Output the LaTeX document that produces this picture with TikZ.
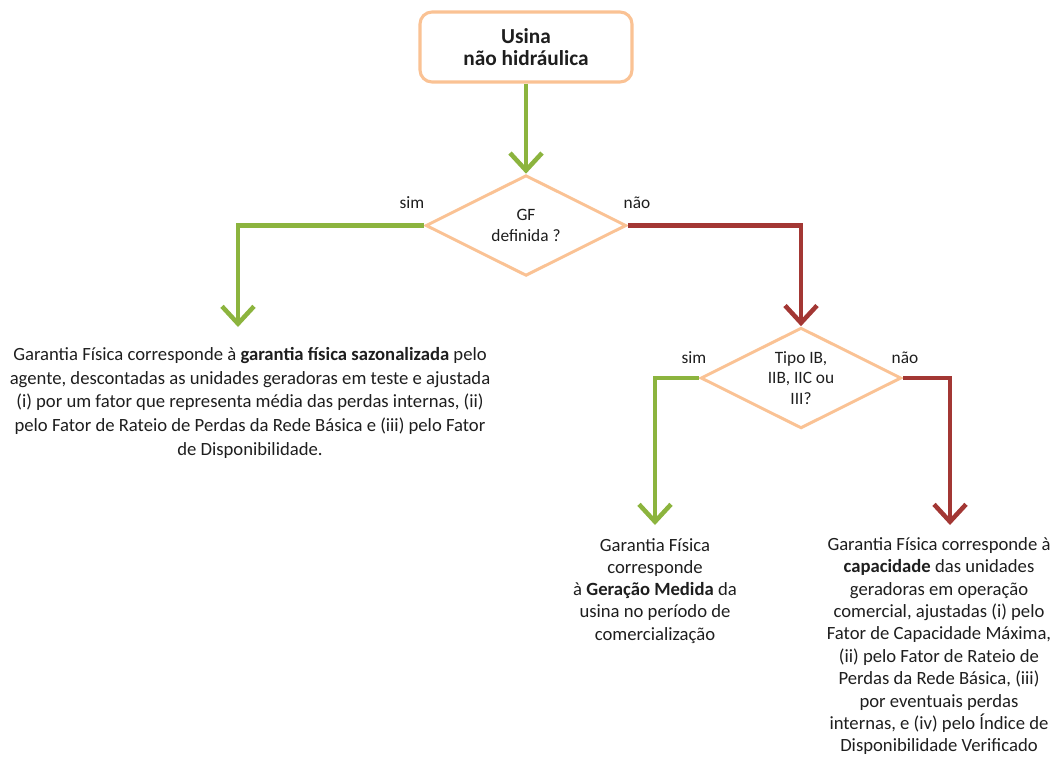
\documentclass[tikz,border=0pt]{standalone}
\usepackage{fontspec}
\setmainfont{Carlito}
\usetikzlibrary{shapes.geometric,arrows.meta}
\definecolor{peach}{RGB}{250,194,148}
\definecolor{gr}{RGB}{140,180,62}
\definecolor{rd}{RGB}{163,55,52}
\definecolor{txt}{RGB}{30,30,30}
\begin{document}
\begin{tikzpicture}[x=0.75pt,y=-0.75pt,
 box/.style={draw=peach,line width=2.3pt,rounded corners=9pt,fill=white,minimum width=159pt,minimum height=52.5pt,inner sep=0pt,align=center,text=txt,font=\fontsize{16}{16.5}\selectfont\bfseries},
 dec/.style={diamond,draw=peach,line width=2.2pt,minimum width=150.5pt,minimum height=75.5pt,inner sep=0pt,aspect=2,align=center,text=txt,font=\fontsize{13}{15.4}\selectfont},
 flow/.style={line width=3.4pt,-{Straight Barb[length=13pt,width=24pt]}},
 lbl/.style={font=\fontsize{13}{17}\selectfont,text=txt,inner sep=0pt},
 body/.style={align=center,inner sep=0pt,text=txt,anchor=north}]
\useasboundingbox (0,0) rectangle (1053,758);
\node[box] (start) at (526,47) {Usina\\não hidráulica};
\node[dec] (d1) at (526,225.5) {GF\\definida ?};
\node[dec] (d2) at (801,378) {Tipo IB,\\IIB, IIC ou\\III?};
\coordinate (e1) at (238,327);
\coordinate (e2) at (655,525);
\coordinate (e3) at (950,525);
\draw[flow,gr] (start) -- (d1);
\draw[flow,gr] (d1.west) -| (e1);
\draw[flow,rd] (d1.east) -| (d2.north);
\draw[flow,gr] (d2.west) -| (e2);
\draw[flow,rd] (d2.east) -| (e3);
\node[lbl] (s1) at (412,203) {sim};
\node[lbl] (n1) at (637,203) {não};
\node[lbl] (s2) at (694,358) {sim};
\node[lbl] (n2) at (905,358) {não};
\node[body,font=\fontsize{14}{17.8}\selectfont] (t1) at (250,347) {Garantia Física corresponde à \textbf{garantia física sazonalizada} pelo\\agente, descontadas as unidades geradoras em teste e ajustada\\(i) por um fator que representa média das perdas internas, (ii)\\pelo Fator de Rateio de Perdas da Rede Básica e (iii) pelo Fator\\de Disponibilidade.};
\node[body,font=\fontsize{14}{16.7}\selectfont] (t2) at (655,538) {Garantia Física\\corresponde\\à \textbf{Geração Medida} da\\usina no período de\\comercialização};
\node[body,font=\fontsize{14}{16.8}\selectfont] (t3) at (939,537) {Garantia Física corresponde à\\\textbf{capacidade} das unidades\\geradoras em operação\\comercial, ajustadas (i) pelo\\Fator de Capacidade Máxima,\\(ii) pelo Fator de Rateio de\\Perdas da Rede Básica, (iii)\\por eventuais perdas\\internas, e (iv) pelo Índice de\\Disponibilidade Verificado};
\end{tikzpicture}
\end{document}
